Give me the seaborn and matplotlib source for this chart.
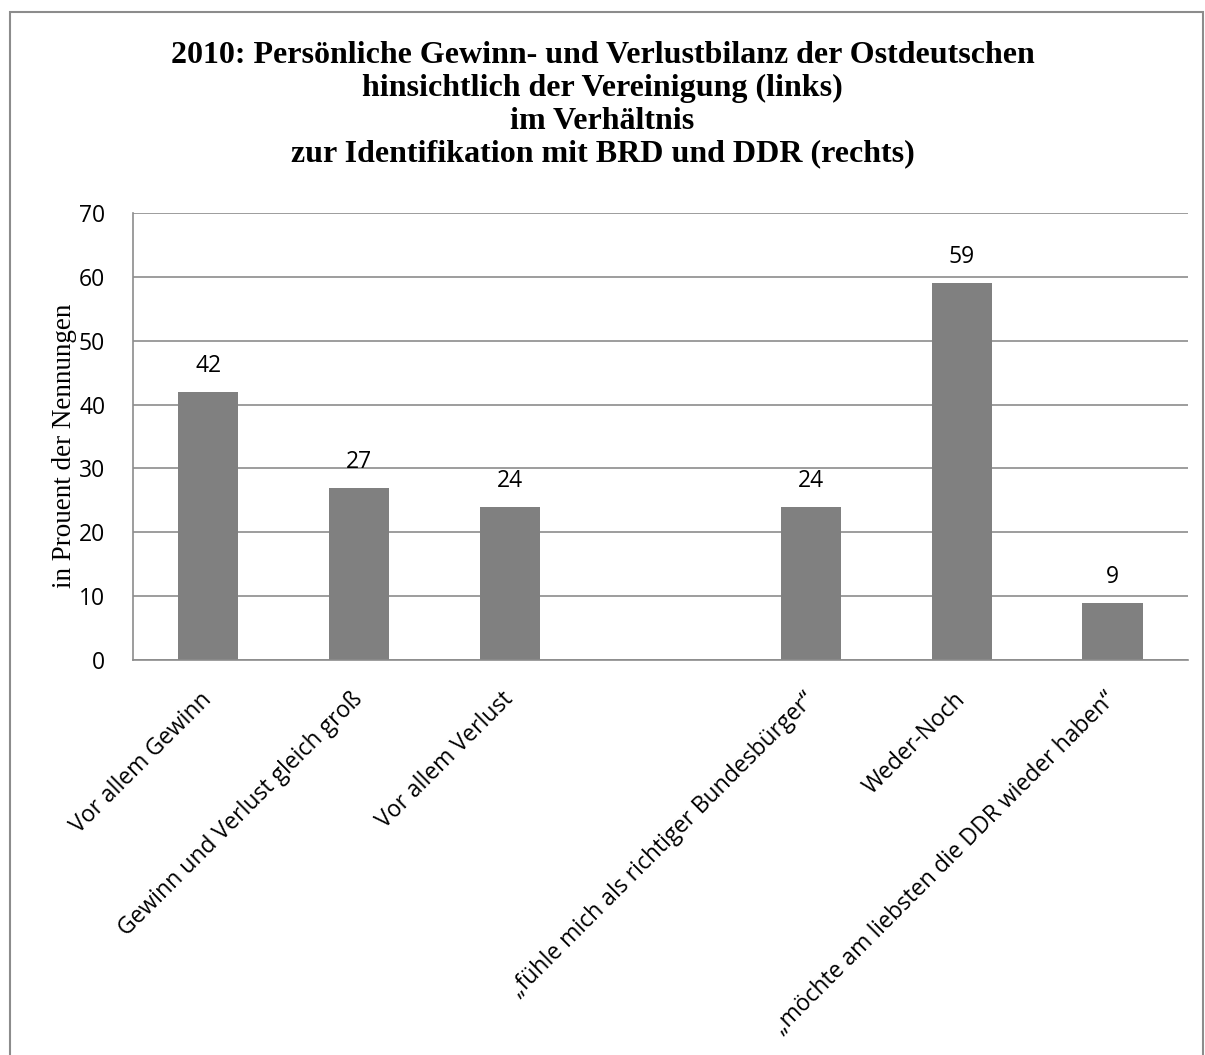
import matplotlib
matplotlib.use("Agg")
import matplotlib.pyplot as plt
import seaborn as sns
import pandas as pd
import numpy as np
from matplotlib.patches import Rectangle

categories = ["Vor allem Gewinn", "Gewinn und Verlust gleich groß", "Vor allem Verlust", " ",
              "„fühle mich als richtiger Bundesbürger“", "Weder-Noch",
              "„möchte am liebsten die DDR wieder haben“"]
values = [42, 27, 24, np.nan, 24, 59, 9]
yticks = [0, 10, 20, 30, 40, 50, 60, 70]
title = ("2010: Persönliche Gewinn- und Verlustbilanz der Ostdeutschen\n"
         "hinsichtlich der Vereinigung (links)\nim Verhältnis\n"
         "zur Identifikation mit BRD und DDR (rechts)")
ylabel = "in Prouent der Nennungen"

sns.set_style("white")
plt.rcParams['font.family'] = ['Open Sans', 'DejaVu Sans']
plt.rcParams['text.color'] = 'black'
plt.rcParams['axes.labelcolor'] = 'black'
plt.rcParams['xtick.color'] = 'black'
plt.rcParams['ytick.color'] = 'black'

df = pd.DataFrame({"cat": categories, "val": values})

fig = plt.figure(figsize=(12.05, 10.55), dpi=100)
ax = fig.add_axes([133/1205, 1-660/1055, (1188-133)/1205, (660-213)/1055])

sns.barplot(data=df, x="cat", y="val", order=categories, color="#808080",
            saturation=1, width=0.4, ax=ax, edgecolor="none")

ax.set_ylim(0, 70)
ax.set_yticks(yticks)
ax.yaxis.grid(True, color="#8c8c8c", linewidth=1.2)
ax.set_axisbelow(True)
for s in ["top", "right"]:
    ax.spines[s].set_visible(False)
for s in ["left", "bottom"]:
    ax.spines[s].set_color("#8c8c8c")
    ax.spines[s].set_linewidth(1.2)
ax.tick_params(axis="both", length=0, labelsize=16.5, colors="black")
ax.tick_params(axis="y", pad=20)
ax.set_xlabel("")
ax.set_ylabel(ylabel, family="Liberation Serif", fontsize=19.5)
ax.yaxis.set_label_coords(-0.053, 0.48)
ax.set_xticks(range(len(categories)))
ax.set_xticklabels(categories, rotation=45, ha="right", va="center",
                   rotation_mode="anchor", fontsize=16.5)
ax.tick_params(axis="x", pad=26)

for c in ax.containers:
    labels = ["" if np.isnan(v) else f"{int(v)}" for v in c.datavalues]
    ax.bar_label(c, labels=labels, padding=10, fontsize=16.5)

fig.text(0.5, 1-41/1055, title, ha="center", va="top", family="Liberation Serif",
         fontweight="bold", fontsize=23, linespacing=1.17)

fig.patches.append(Rectangle((10/1205, -0.01), (1203-10)/1205, (1055-12)/1055 + 0.01,
                             transform=fig.transFigure, fill=False,
                             edgecolor="#8c8c8c", linewidth=1.5))

fig.savefig("out.png", dpi=100)
